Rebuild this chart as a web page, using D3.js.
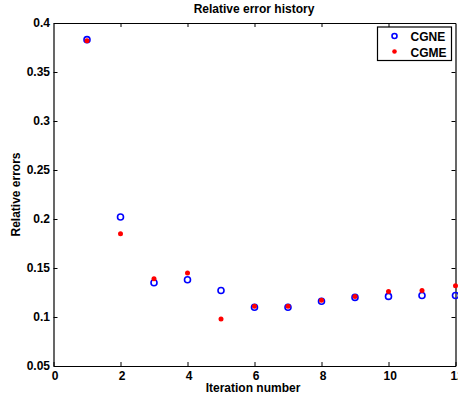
<!DOCTYPE html>
<html>
<head>
<meta charset="utf-8">
<script src="https://cdn.jsdelivr.net/npm/d3@7"></script>
<style>
  body { margin: 0; background: #fff; }
  svg { display: block; font-family: "Liberation Sans", Arial, sans-serif; }
</style>
</head>
<body>
<svg id="chart" width="458" height="398"></svg>
<script>
// iteration numbers and relative errors
const iterations = [1, 2, 3, 4, 5, 6, 7, 8, 9, 10, 11, 12];
const cgne = [0.383, 0.202, 0.135, 0.138, 0.127, 0.110, 0.110, 0.116, 0.120, 0.121, 0.122, 0.122];
const cgme = [0.382, 0.185, 0.139, 0.145, 0.098, 0.111, 0.111, 0.117, 0.121, 0.126, 0.127, 0.132];
const xTicks = [0, 2, 4, 6, 8, 10, 12];
const yTicks = [0.05, 0.1, 0.15, 0.2, 0.25, 0.3, 0.35, 0.4];
const yTickLabels = ['0.05', '0.1', '0.15', '0.2', '0.25', '0.3', '0.35', '0.4'];

const margin = { top: 23, left: 53.5, bottom: 32, right: 2.5 };
const width = 458, height = 398;
const FONT = '"Liberation Sans", Arial, sans-serif';

const svg = d3.select('#chart');

const x = d3.scaleLinear().domain([0, 12]).range([margin.left, width - margin.right]);
const y = d3.scaleLinear().domain([0.05, 0.4]).range([height - margin.bottom, margin.top]);

// matlab style box: ticks pointing inward on all four sides
function styleAxis(g) {
    g.attr('font-family', FONT).attr('font-size', 12).attr('font-weight', 'bold');
    g.selectAll('text').attr('fill', '#000');
    g.selectAll('line').attr('stroke', '#000');
    g.select('.domain').attr('stroke', '#000').attr('stroke-width', 1.2);
}

svg.append('g')
    .attr('transform', `translate(0,${y(0.05)})`)
    .call(d3.axisBottom(x).tickValues(xTicks).tickFormat(d3.format('d'))
        .tickSizeInner(-4).tickSizeOuter(0).tickPadding(5))
    .call(styleAxis)
    .call(g => g.selectAll('.tick text').attr('dx', '0.1em'));

svg.append('g')
    .attr('transform', `translate(0,${y(0.4)})`)
    .call(d3.axisTop(x).tickValues(xTicks.slice(1, -1)).tickFormat('')
        .tickSizeInner(-4).tickSizeOuter(0))
    .call(styleAxis);

svg.append('g')
    .attr('transform', `translate(${x(0)},0)`)
    .call(d3.axisLeft(y).tickValues(yTicks).tickFormat((d, i) => yTickLabels[i])
        .tickSizeInner(-4).tickSizeOuter(0).tickPadding(3.5))
    .call(styleAxis);

svg.append('g')
    .attr('transform', `translate(${x(12)},0)`)
    .call(d3.axisRight(y).tickValues(yTicks.slice(1, -1)).tickFormat('')
        .tickSizeInner(-4).tickSizeOuter(0))
    .call(styleAxis);

// points
svg.append('g')
    .selectAll('circle')
    .data(iterations)
    .join('circle')
    .attr('cx', d => x(d))
    .attr('cy', (d, i) => y(cgne[i]))
    .attr('r', 3)
    .attr('fill', 'none')
    .attr('stroke', '#0000ff')
    .attr('stroke-width', 1.6);

svg.append('g')
    .selectAll('circle')
    .data(iterations)
    .join('circle')
    .attr('cx', d => x(d))
    .attr('cy', (d, i) => y(cgme[i]))
    .attr('r', 2.5)
    .attr('fill', '#ff0000');

// labels
svg.append('text')
    .attr('x', 254).attr('y', 12.5)
    .attr('text-anchor', 'middle')
    .attr('font-size', 12).attr('font-weight', 'bold')
    .text('Relative error history');

svg.append('text')
    .attr('x', 253).attr('y', 392)
    .attr('text-anchor', 'middle')
    .attr('font-size', 12).attr('font-weight', 'bold')
    .text('Iteration number');

svg.append('text')
    .attr('transform', `translate(19.5,${(y(0.05) + y(0.4)) / 2}) rotate(-90)`)
    .attr('text-anchor', 'middle')
    .attr('font-size', 12).attr('font-weight', 'bold')
    .text('Relative errors');

// legend
const legend = svg.append('g').attr('transform', 'translate(377.5,27)');
legend.append('rect')
    .attr('width', 74).attr('height', 33.5)
    .attr('fill', '#fff').attr('stroke', '#000').attr('stroke-width', 1.2);
legend.append('circle')
    .attr('cx', 17).attr('cy', 9)
    .attr('r', 2.5).attr('fill', 'none')
    .attr('stroke', '#0000ff').attr('stroke-width', 1.6);
legend.append('circle')
    .attr('cx', 17).attr('cy', 24.5)
    .attr('r', 2.3).attr('fill', '#ff0000');
legend.append('text')
    .attr('x', 33).attr('y', 14)
    .attr('font-size', 12).attr('font-weight', 'bold')
    .text('CGNE');
legend.append('text')
    .attr('x', 33).attr('y', 29.5)
    .attr('font-size', 12).attr('font-weight', 'bold')
    .text('CGME');
</script>
</body>
</html>
